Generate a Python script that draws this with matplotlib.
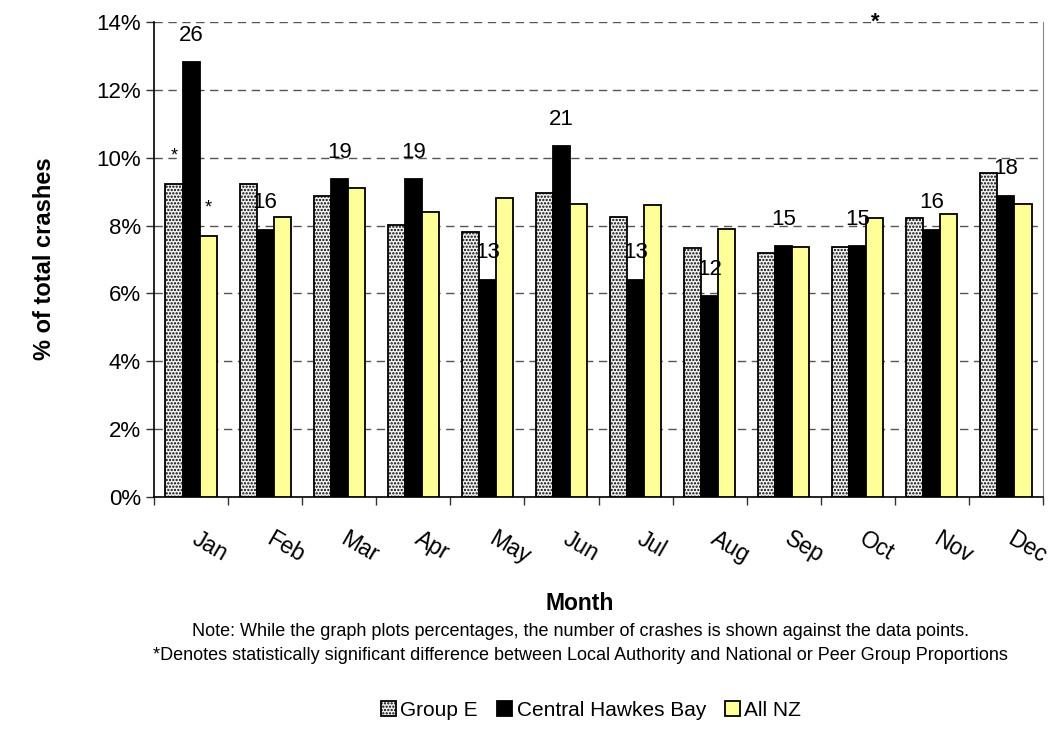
import numpy as np
import matplotlib.pyplot as plt

plt.rcParams['font.family'] = ['Liberation Sans', 'DejaVu Sans']
plt.rcParams['hatch.color'] = '#555555'
plt.rcParams['hatch.linewidth'] = 1.1

months = ['Jan', 'Feb', 'Mar', 'Apr', 'May', 'Jun', 'Jul', 'Aug', 'Sep', 'Oct', 'Nov', 'Dec']
group_e = [9.22, 9.22, 8.88, 8.02, 7.80, 8.95, 8.25, 7.35, 7.20, 7.38, 8.22, 9.55]
chb = [12.81, 7.88, 9.36, 9.36, 6.40, 10.34, 6.40, 5.91, 7.39, 7.39, 7.88, 8.87]
all_nz = [7.70, 8.25, 9.10, 8.40, 8.80, 8.65, 8.60, 7.90, 7.38, 8.22, 8.35, 8.65]
chb_counts = [26, 16, 19, 19, 13, 21, 13, 12, 15, 15, 16, 18]

x = np.arange(len(months))
w = 0.23

fig = plt.figure(figsize=(10.58, 7.45), dpi=100)
ax = fig.add_axes([154 / 1058, 1 - 497 / 745, (1043 - 154) / 1058, (497 - 22) / 745])

ax.bar(x - w, group_e, w, facecolor='#f4f4f4', edgecolor='black', hatch='.....',
       linewidth=1.3, label='Group E', zorder=3)
ax.bar(x, chb, w, color='black', edgecolor='black', linewidth=1.3,
       label='Central Hawkes Bay', zorder=3)
ax.bar(x + w, all_nz, w, color='#ffff99', edgecolor='black', linewidth=1.3,
       label='All NZ', zorder=3)

# crash counts above the local authority bars
for xi, v, n in zip(x, chb, chb_counts):
    ax.annotate(str(n), (xi, v), xytext=(0, 19.5), textcoords='offset points',
                ha='center', va='center', fontsize=16, zorder=4)

# significance markers
ax.annotate('*', (x[0] - w, group_e[0]), xytext=(0, 20), textcoords='offset points',
            ha='center', va='center', fontsize=13)
ax.annotate('*', (x[0] + w, all_nz[0]), xytext=(0, 20), textcoords='offset points',
            ha='center', va='center', fontsize=13)
ax.text(x[9] + w, 14, '*', ha='center', va='center', fontsize=16,
        fontweight='bold', clip_on=False)

ax.set_xlim(-0.5, len(months) - 0.5)
ax.set_ylim(0, 14)
ax.set_yticks(np.arange(0, 15, 2))
ax.set_yticklabels([f'{v}%' for v in range(0, 15, 2)], fontsize=16)
ax.yaxis.grid(True, linestyle=(0, (6, 4)), color='#555555', linewidth=1.0, zorder=0)

ax.set_xticks(np.arange(-0.5, len(months), 1))
ax.set_xticklabels([])
ax.tick_params(axis='both', direction='out', length=6, width=1.0, color='#333333')
for xi, m in zip(x, months):
    ax.text(xi + 0.12, -0.9, m, rotation=-30, rotation_mode='anchor',
            ha='left', va='top', fontsize=16.5)

ax.spines['top'].set_visible(False)
ax.spines['right'].set_color('#888888')
ax.spines['left'].set_linewidth(1.2)
ax.spines['bottom'].set_linewidth(1.2)

fig.text(45 / 1058, 1 - 259 / 745, '% of total crashes', rotation=90, ha='center',
         va='center', fontsize=17, fontweight='bold')
fig.text(580 / 1058, 1 - 604 / 745, 'Month', ha='center', va='center',
         fontsize=16.5, fontweight='bold')
fig.text(580 / 1058, 1 - 632 / 745,
         'Note: While the graph plots percentages, the number of crashes is shown against the data points.',
         ha='center', va='center', fontsize=13)
fig.text(580 / 1058, 1 - 656 / 745,
         '*Denotes statistically significant difference between Local Authority and National or Peer Group Proportions',
         ha='center', va='center', fontsize=13)

fig.legend(loc='center', bbox_to_anchor=(591 / 1058, 1 - 710 / 745), ncol=3,
           frameon=False, fontsize=15, handlelength=0.75, handleheight=0.75,
           handletextpad=0.2, columnspacing=0.9)

fig.savefig('out.png', dpi=100)
